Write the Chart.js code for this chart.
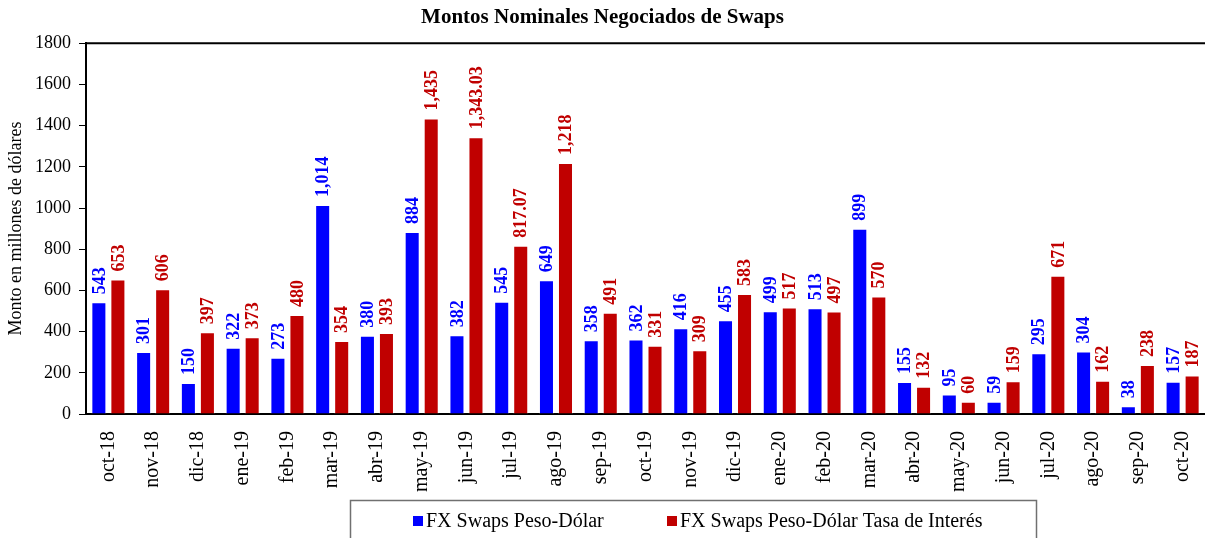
<!DOCTYPE html>
<html>
<head>
<meta charset="utf-8">
<script src="https://cdn.jsdelivr.net/npm/chart.js@4.4.1/dist/chart.umd.min.js"></script>
<style>
  html, body { margin: 0; padding: 0; background: #fff; }
  #wrap { width: 1205px; height: 538px; }
</style>
</head>
<body>
<div id="wrap"><canvas id="grafico" width="1205" height="538"></canvas></div>
<script>
// Datos del gráfico
const meses = ['oct-18', 'nov-18', 'dic-18', 'ene-19', 'feb-19', 'mar-19', 'abr-19', 'may-19', 'jun-19',
    'jul-19', 'ago-19', 'sep-19', 'oct-19', 'nov-19', 'dic-19', 'ene-20', 'feb-20', 'mar-20', 'abr-20',
    'may-20', 'jun-20', 'jul-20', 'ago-20', 'sep-20', 'oct-20'];
const fxPesoDolar = [543, 301, 150, 322, 273, 1014, 380, 884, 382, 545, 649, 358, 362, 416, 455, 499, 513,
    899, 155, 95, 59, 295, 304, 38, 157];
const fxTasaInteres = [653, 606, 397, 373, 480, 354, 393, 1435, 1343.03, 817.07, 1218, 491, 331, 309, 583,
    517, 497, 570, 132, 60, 159, 671, 162, 238, 187];
const nombresSeries = ['FX Swaps Peso-Dólar', 'FX Swaps Peso-Dólar Tasa de Interés'];
const coloresSeries = ['#0000FF', '#C00000'];

const fuente = "'Liberation Serif', 'Times New Roman', serif";

function formatoValor(v) {
    return v.toLocaleString('en-US', { maximumFractionDigits: 2 });
}

// Etiquetas de valor verticales sobre cada barra
const etiquetasBarras = {
    id: 'etiquetasBarras',
    afterDatasetsDraw(chart) {
        const ctx = chart.ctx;
        ctx.save();
        ctx.font = 'bold 18px ' + fuente;
        ctx.textAlign = 'left';
        ctx.textBaseline = 'middle';
        chart.data.datasets.forEach((ds, i) => {
            const meta = chart.getDatasetMeta(i);
            meta.data.forEach((bar, j) => {
                ctx.save();
                ctx.fillStyle = coloresSeries[i];
                ctx.translate(bar.x + 1, bar.y - 8);
                ctx.rotate(-Math.PI / 2);
                ctx.fillText(formatoValor(ds.data[j]), 0, 0);
                ctx.restore();
            });
        });
        ctx.restore();
    }
};

// Línea superior del marco y leyenda con recuadro
const marcoYLeyenda = {
    id: 'marcoYLeyenda',
    afterDraw(chart) {
        const ctx = chart.ctx;
        const a = chart.chartArea;
        ctx.save();
        ctx.strokeStyle = '#000';
        ctx.lineWidth = 2;
        ctx.beginPath();
        ctx.moveTo(a.left, a.top);
        ctx.lineTo(a.right, a.top);
        ctx.stroke();

        // recuadro de la leyenda
        ctx.strokeStyle = '#707070';
        ctx.lineWidth = 1.5;
        ctx.strokeRect(350.5, 500.5, 686, 60);

        ctx.font = '20px ' + fuente;
        ctx.textBaseline = 'middle';
        ctx.textAlign = 'left';
        const inicios = [413, 667];
        nombresSeries.forEach((n, i) => {
            ctx.fillStyle = coloresSeries[i];
            ctx.fillRect(inicios[i], 516, 10, 10);
            ctx.fillStyle = '#000';
            ctx.fillText(n, inicios[i] + 13, 522);
        });
        ctx.restore();
    }
};

const ctx = document.getElementById('grafico').getContext('2d');
const grafico = new Chart(ctx, {
    type: 'bar',
    data: {
        labels: meses,
        datasets: nombresSeries.map((n, i) => ({
            label: n,
            data: i === 0 ? fxPesoDolar : fxTasaInteres,
            backgroundColor: coloresSeries[i],
            borderColor: 'rgba(255,255,255,0.5)',
            borderWidth: 1,
            categoryPercentage: 0.85,
            barPercentage: 0.79
        }))
    },
    options: {
        responsive: false,
        animation: false,
        layout: { padding: 0 },
        plugins: {
            legend: { display: false },
            tooltip: { enabled: false },
            title: {
                display: true,
                text: 'Montos Nominales Negociados de Swaps',
                color: '#000',
                font: { family: fuente, size: 21, weight: 'bold' },
                padding: { top: 5, bottom: 13 }
            }
        },
        scales: {
            x: {
                grid: { display: false },
                border: { display: true, color: '#000', width: 2 },
                ticks: {
                    color: '#000',
                    font: { family: fuente, size: 20 },
                    minRotation: 90,
                    maxRotation: 90,
                    padding: 9,
                    autoSkip: false
                },
                afterFit(scale) {
                    scale.height = 124;
                    scale.paddingLeft = 0;
                    scale.paddingRight = 0;
                }
            },
            y: {
                min: 0,
                max: 1800,
                ticks: {
                    stepSize: 200,
                    color: '#000',
                    font: { family: fuente, size: 18 },
                    padding: 8,
                    callback: (v) => String(v)
                },
                grid: {
                    display: true,
                    drawOnChartArea: false,
                    drawTicks: true,
                    tickLength: 7,
                    color: '#000',
                    lineWidth: 1
                },
                border: { display: true, color: '#000', width: 2 },
                title: {
                    display: true,
                    text: 'Monto en millones de dólares',
                    color: '#000',
                    font: { family: fuente, size: 18 },
                    padding: { top: 5, bottom: 0 }
                },
                afterFit(scale) { scale.width = 86; }
            }
        }
    },
    plugins: [etiquetasBarras, marcoYLeyenda]
});
</script>
</body>
</html>
